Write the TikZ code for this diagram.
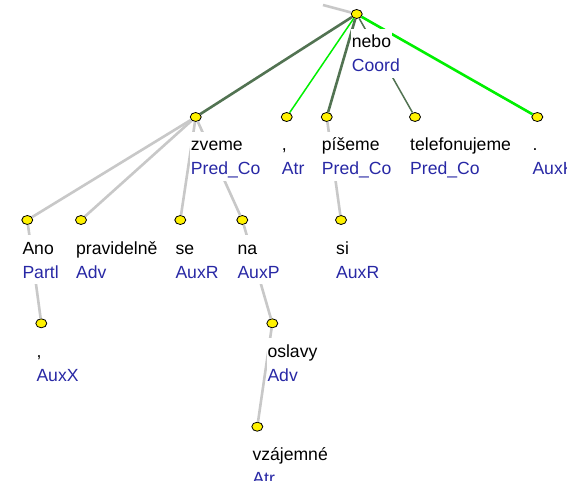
\documentclass[tikz,border=0pt]{standalone}
\usepackage{fontspec}
\setmainfont{Liberation Sans}
\usepackage{xcolor}
\usetikzlibrary{shapes.geometric,calc}
\definecolor{afunblue}{RGB}{40,40,165}
\definecolor{darkedge}{RGB}{82,115,82}
\definecolor{greyedge}{RGB}{200,200,200}
\definecolor{greenedge}{RGB}{0,240,0}
\tikzset{%
	tnode/.style     = {draw, line width=0.8pt, ellipse, fill=yellow, minimum width=11pt, minimum height=9pt, inner sep=0pt},
	form/.style      = {anchor=base west, fill=white, inner xsep=1pt, inner ysep=2pt, text height=17pt, text depth=4pt, font=\fontsize{17.6}{20}\selectfont},
	afun/.style      = {form, text=afunblue},
	dep/.style       = {greyedge, line width=2.6pt},
	coorddep/.style  = {darkedge, line width=2.6pt},
	coordthin/.style = {darkedge, line width=1.5pt},
	auxdep/.style    = {greenedge, line width=2.6pt},
	auxthin/.style   = {greenedge, line width=1.5pt},
}
% word form and afun under a node
\newcommand{\tlabel}[3]{%
	\node[form] (#1-f) at ([shift={(-6,34)}]#1.center) {#2};
	\node[afun] (#1-a) at ([shift={(-6,58)}]#1.center) {#3};
}

\begin{document}
\begin{tikzpicture}[x=1pt,y=-1pt]
	\clip (0,0) rectangle (567,481);
	\fill[white] (0,0) rectangle (567,481);
	% nodes
	\node[tnode] (nebo) at (356.7,14) {};
	\node[tnode] (zveme) at (195.7,117) {};
	\node[tnode] (comma) at (286.7,117) {};
	\node[tnode] (piseme) at (326.7,117) {};
	\node[tnode] (telef) at (415,117) {};
	\node[tnode] (dot) at (537.3,117) {};
	\node[tnode] (ano) at (27.3,220) {};
	\node[tnode] (pravid) at (81,220) {};
	\node[tnode] (se) at (180.3,220) {};
	\node[tnode] (na) at (242.3,220) {};
	\node[tnode] (si) at (341,220) {};
	\node[tnode] (commax) at (41.3,323.3) {};
	\node[tnode] (oslavy) at (272.3,323.3) {};
	\node[tnode] (vzajem) at (257.3,426.7) {};
	\coordinate (top) at (323,5);
	% edges
	\draw[dep] (nebo) -- (top);
	\draw[coorddep] (nebo) -- (zveme);
	\draw[auxthin] (nebo) -- (comma);
	\draw[coorddep] (nebo) -- (piseme);
	\draw[coordthin] (nebo) -- (telef);
	\draw[auxdep] (nebo) -- (dot);
	\draw[dep] (zveme) -- (ano);
	\draw[dep] (zveme) -- (pravid);
	\draw[dep] (zveme) -- (se);
	\draw[dep] (zveme) -- (na);
	\draw[dep] (piseme) -- (si);
	\draw[dep] (ano) -- (commax);
	\draw[dep] (na) -- (oslavy);
	\draw[dep] (oslavy) -- (vzajem);
	% labels
	\tlabel{nebo}{nebo}{Coord}
	\tlabel{zveme}{zveme}{Pred\_Co}
	\tlabel{comma}{,}{Atr}
	\tlabel{piseme}{píšeme}{Pred\_Co}
	\tlabel{telef}{telefonujeme}{Pred\_Co}
	\tlabel{dot}{.}{AuxK}
	\tlabel{ano}{Ano}{Partl}
	\tlabel{pravid}{pravidelně}{Adv}
	\tlabel{se}{se}{AuxR}
	\tlabel{na}{na}{AuxP}
	\tlabel{si}{si}{AuxR}
	\tlabel{commax}{,}{AuxX}
	\tlabel{oslavy}{oslavy}{Adv}
	\tlabel{vzajem}{vzájemné}{Atr}
\end{tikzpicture}
\end{document}
